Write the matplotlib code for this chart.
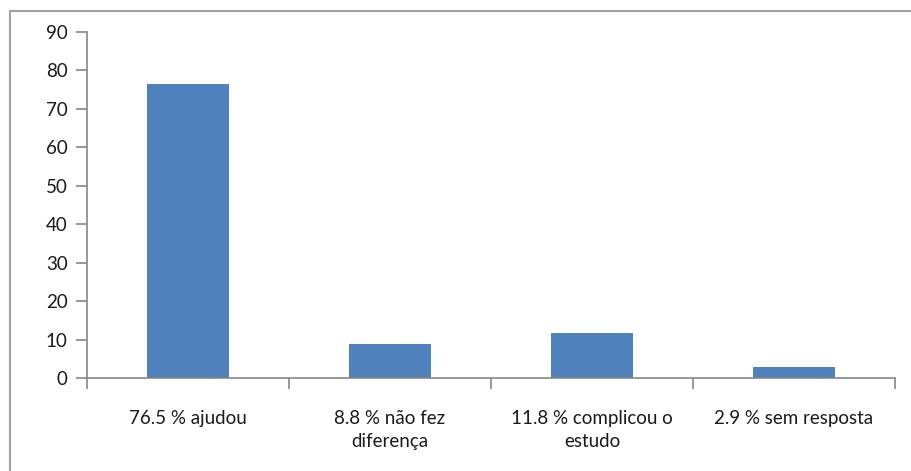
import matplotlib.pyplot as plt
from matplotlib.lines import Line2D

categories = ['76.5 % ajudou', '8.8 % não fez\ndiferença',
              '11.8 % complicou o\nestudo', '2.9 % sem resposta']
values = [76.5, 8.8, 11.8, 2.9]
yticks = [0, 10, 20, 30, 40, 50, 60, 70, 80, 90]

plt.rcParams['font.family'] = ['Lato', 'DejaVu Sans']
axis_gray = '#868686'
text_col = '#1a1a1a'

fig = plt.figure(figsize=(9.12, 4.71), dpi=100)
ax = fig.add_axes([0.0954, 0.1975, 0.886, 0.7345])

x = range(len(values))
ax.bar(x, values, width=0.405, color='#4F81BD', zorder=2)

ax.set_xlim(-0.5, len(values) - 0.5)
ax.set_ylim(0, 90)
ax.set_yticks(yticks)

# tick marks at category boundaries, labels at centres
ax.set_xticks([i - 0.5 for i in range(len(values) + 1)])
ax.set_xticklabels([])
ax.set_xticks(list(x), minor=True)
ax.set_xticklabels(categories, minor=True, fontsize=13.5, linespacing=1.45, color=text_col)
ax.tick_params(axis='x', which='major', length=8, width=1.2, color=axis_gray, direction='out')
ax.tick_params(axis='x', which='minor', length=0, pad=23)
ax.tick_params(axis='y', length=8, width=1.2, color=axis_gray, labelsize=13.5,
               labelcolor=text_col, pad=6)

for s in ['top', 'right']:
    ax.spines[s].set_visible(False)
for s in ['left', 'bottom']:
    ax.spines[s].set_color(axis_gray)
    ax.spines[s].set_linewidth(1.2)

# chart area border (right and bottom cut off)
fig.add_artist(Line2D([10 / 912, 1], [1 - 11 / 471] * 2, color='#a0a0a0', lw=1.5,
                      transform=fig.transFigure))
fig.add_artist(Line2D([10 / 912] * 2, [0, 1 - 11 / 471], color='#a0a0a0', lw=1.5,
                      transform=fig.transFigure))

fig.savefig('out.png', dpi=100)
